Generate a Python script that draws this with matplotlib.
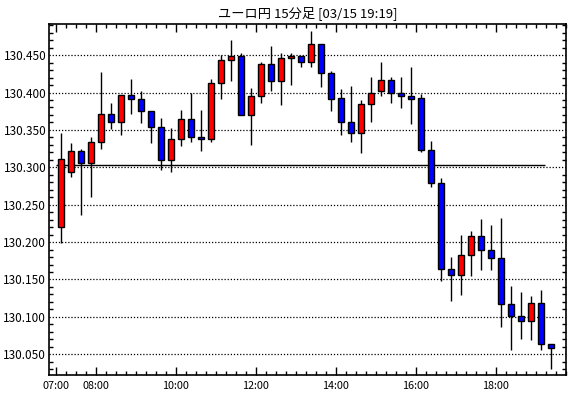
import matplotlib
matplotlib.use("Agg")
import matplotlib.pyplot as plt
import numpy as np
from matplotlib.ticker import MultipleLocator, FixedLocator

plt.rcParams['font.family'] = ['Noto Sans CJK JP', 'DejaVu Sans']

# 15-minute candles from 07:00 to 19:15 (index 0 = 07:00)
opens = [130.2197, 130.2932, 130.3217, 130.3060, 130.3333, 130.3707, 130.3600, 130.3961,
         130.3916, 130.3747, 130.3533, 130.3092, 130.3373, 130.3640, 130.3404, 130.3373,
         130.4126, 130.4429, 130.4483, 130.3694, 130.3948, 130.4376, 130.4148, 130.4456,
         130.4483, 130.4402, 130.4643, 130.4255, 130.3921, 130.3600, 130.3453, 130.3841,
         130.4015, 130.4162, 130.3992, 130.3948, 130.3921, 130.3226, 130.2785, 130.1635,
         130.1555, 130.1822, 130.2076, 130.1889, 130.1782, 130.1167, 130.1007, 130.0940,
         130.1180, 130.0632]
closes = [130.3106, 130.3213, 130.3060, 130.3333, 130.3707, 130.3600, 130.3961, 130.3916,
          130.3747, 130.3533, 130.3092, 130.3373, 130.3640, 130.3400, 130.3373, 130.4126,
          130.4429, 130.4483, 130.3694, 130.3948, 130.4376, 130.4148, 130.4456, 130.4483,
          130.4402, 130.4643, 130.4255, 130.3916, 130.3600, 130.3453, 130.3841, 130.4000,
          130.4162, 130.3988, 130.3948, 130.3916, 130.3226, 130.2785, 130.1635, 130.1555,
          130.1822, 130.2076, 130.1889, 130.1782, 130.1167, 130.1007, 130.0940, 130.1180,
          130.0632, 130.0579]
highs = [130.3453, 130.3320, 130.3243, 130.3404, 130.4273, 130.3858, 130.3961, 130.4179,
         130.4019, 130.3747, 130.3658, 130.3520, 130.3765, 130.4000, 130.3765, 130.4175,
         130.4500, 130.4701, 130.4523, 130.4059, 130.4402, 130.4620, 130.4523, 130.4523,
         130.4483, 130.4821, 130.4643, 130.4286, 130.4045, 130.4086, 130.3898, 130.4206,
         130.4406, 130.4206, 130.4206, 130.4344, 130.3979, 130.3350, 130.2856, 130.1800,
         130.2094, 130.2147, 130.2307, 130.2227, 130.2321, 130.1408, 130.1332, 130.1274,
         130.1358, 130.0632]
lows = [130.1983, 130.2873, 130.2365, 130.2606, 130.3247, 130.3515, 130.3434, 130.3711,
        130.3595, 130.3328, 130.2959, 130.2940, 130.3287, 130.3333, 130.3220, 130.3341,
        130.3912, 130.4156, 130.3694, 130.3301, 130.3862, 130.4019, 130.3836, 130.4103,
        130.4336, 130.4336, 130.4076, 130.3755, 130.3434, 130.3341, 130.3186, 130.3600,
        130.3956, 130.3854, 130.3795, 130.3582, 130.3207, 130.2731, 130.1475, 130.1207,
        130.1287, 130.1549, 130.1630, 130.1622, 130.0868, 130.0560, 130.0699, 130.0686,
        130.0560, 130.0306]

ref_line = 130.3036
x_labels = ["07:00", "08:00", "10:00", "12:00", "14:00", "16:00", "18:00"]
x_label_pos = [0, 4, 12, 20, 28, 36, 44]   # in 15-minute units from 07:00
y_ticks = [130.050, 130.100, 130.150, 130.200, 130.250, 130.300, 130.350, 130.400, 130.450]

fig = plt.figure(figsize=(5.7, 3.98), dpi=100)
ax = fig.add_axes([49 / 570, 23 / 398, (565.7 - 49) / 570, (375 - 24) / 398])

o = np.array(opens)
c = np.array(closes)
h = np.array(highs)
l = np.array(lows)
x = np.arange(len(o)) + 0.5
up = c >= o
colors = np.where(up, '#ff0000', '#0000ff')

ax.vlines(x, l, h, color='black', linewidth=1.0, zorder=2)
bottoms = np.minimum(o, c)
heights = np.maximum(np.abs(c - o), 0.0012)
ax.bar(x, heights, bottom=bottoms, width=0.62, color=colors, edgecolor='black',
       linewidth=1.0, zorder=3)

ax.hlines(ref_line, 0, 48.9, color='black', linewidth=1.0, zorder=1)

ax.set_xlim(-0.67, 51.0)
ax.set_ylim(130.0223, 130.4916)

for yv in y_ticks:
    ax.axhline(yv, color='black', linestyle=(0, (1, 1.5)), linewidth=0.9, zorder=0)

ax.yaxis.set_major_locator(FixedLocator(y_ticks))
ax.yaxis.set_minor_locator(MultipleLocator(0.01))
ax.set_yticklabels([f"{v:.3f}" for v in y_ticks])
ax.xaxis.set_major_locator(FixedLocator(x_label_pos))
ax.set_xticklabels(x_labels)
ax.xaxis.set_minor_locator(MultipleLocator(1))

ax.tick_params(axis='both', which='both', direction='in', top=True, right=True,
               colors='black')
ax.tick_params(axis='x', labelsize=7.8)
ax.tick_params(axis='y', labelsize=8.5)
ax.tick_params(axis='both', which='major', length=6, width=1, pad=4)
ax.tick_params(axis='both', which='minor', length=3, width=1)
ax.tick_params(axis='y', which='major', labelright=False, length=0, pad=2)
ax.tick_params(axis='y', which='minor', right=True, left=True)

for sp in ax.spines.values():
    sp.set_linewidth(1.2)
    sp.set_color('black')

fig.text(0.5 * (49 + 565.7) / 570, 1 - 13 / 398, "ユーロ円 15分足 [03/15 19:19]",
         ha='center', va='center', fontsize=9.5)

fig.savefig("out.png", dpi=100)
